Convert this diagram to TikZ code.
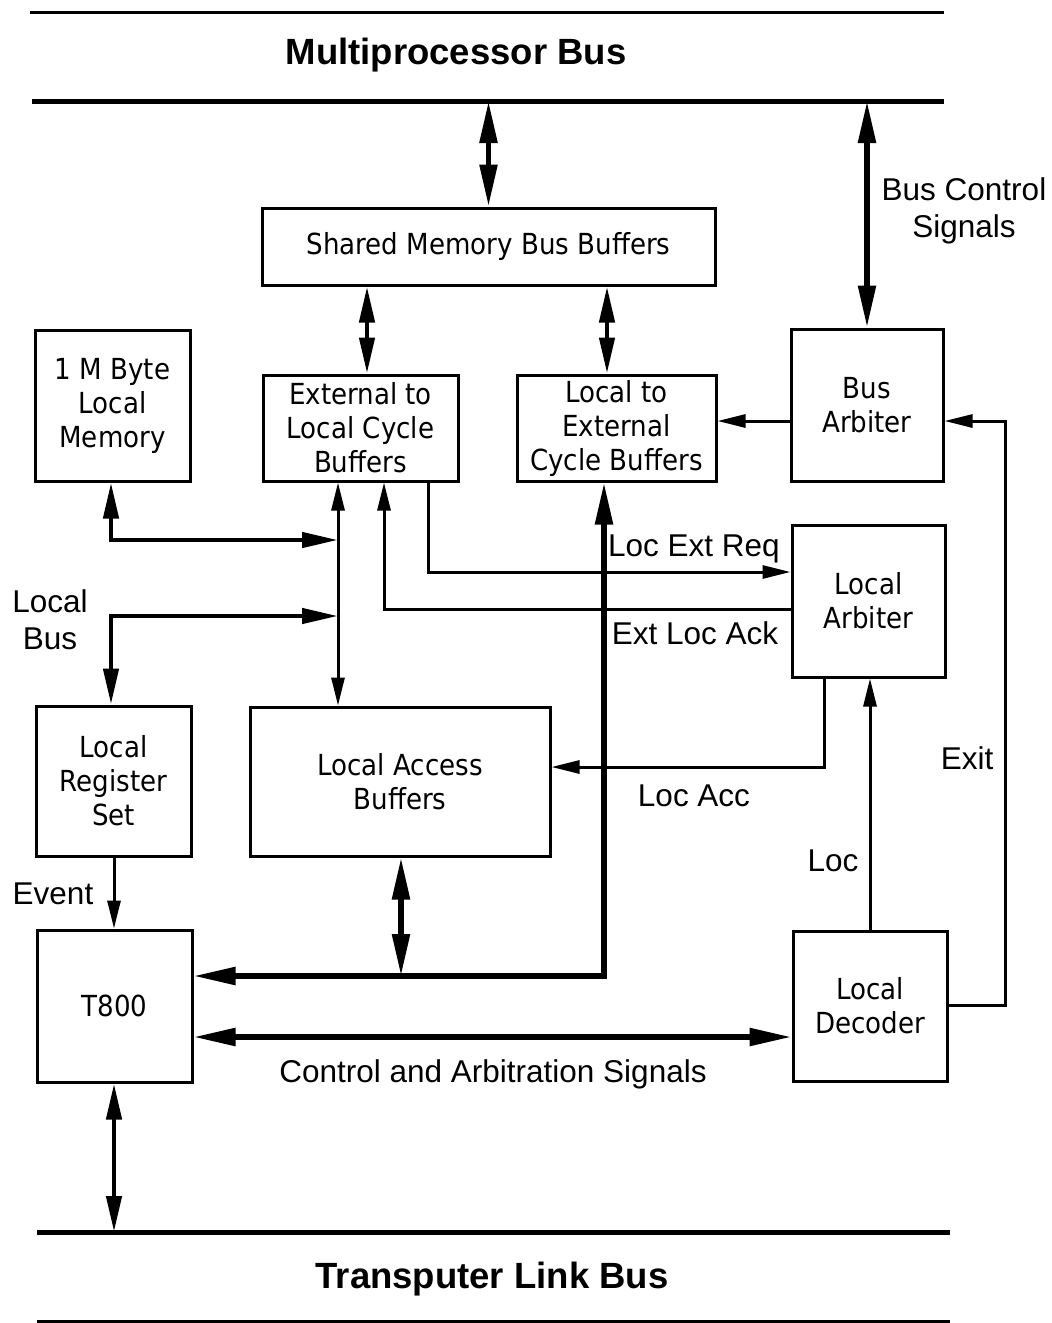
\documentclass[tikz,border=0pt]{standalone}
\usepackage{fontspec}
\setmainfont{Liberation Sans}
\newfontfamily\boxfont[FakeStretch=0.9]{DejaVu Sans}
\usetikzlibrary{arrows.meta}
\begin{document}
\begin{tikzpicture}[x=1pt,y=-1pt,
  blk/.style={draw, line width=3pt, inner sep=0pt, align=center,
    font=\boxfont\fontsize{29}{34}\selectfont},
  lbl/.style={inner sep=0pt, align=center, font=\fontsize{31.5}{37}\selectfont},
  ttl/.style={inner sep=0pt, font=\bfseries\fontsize{36.5}{40}\selectfont},
  busline/.style={line width=5pt},
  rule/.style={line width=3pt},
  thk/.style={line width=5.5pt, >={Triangle[length=42pt,width=17pt]}},
  med/.style={line width=4.5pt, >={Triangle[length=36pt,width=15pt]}},
  thn/.style={line width=3pt, >={Triangle[length=28pt,width=13pt]}}
]
\useasboundingbox (0,0) rectangle (1052,1323);

% bus lines
\draw[rule] (30,12) coordinate (topL) -- (944,12) coordinate (topR);
\draw[busline] (32,101) coordinate (mp) -- (944,101) coordinate (mpR);
\draw[busline] (37,1232) coordinate (tlb) -- (950,1232) coordinate (tlbR);
\draw[rule] (37,1321) coordinate (botL) -- (950,1321) coordinate (botR);
\node[ttl] (mpt) at (456,55) {Multiprocessor Bus};
\node[ttl] (tlt) at (492,1279) {Transputer Link Bus};

% blocks
\node[blk, minimum width=453pt, minimum height=77pt] (smbb) at (488.5,246.5) {Shared Memory Bus Buffers};
\node[blk, minimum width=155pt, minimum height=151pt] (mem) at (112.5,405.5) {1 M Byte\\Local\\Memory};
\node[blk, minimum width=195pt, minimum height=106pt] (e2l) at (360.5,428) {External to\\Local Cycle\\Buffers};
\node[blk, minimum width=199pt, minimum height=106pt] (l2e) at (616.5,428) {Local to\\External\\Cycle Buffers};
\node[blk, minimum width=152pt, minimum height=152pt] (barb) at (867,405) {Bus\\Arbiter};
\node[blk, minimum width=153pt, minimum height=152pt] (larb) at (868.5,601) {Local\\Arbiter};
\node[blk, minimum width=155pt, minimum height=150pt] (reg) at (113.5,781) {Local\\Register\\Set};
\node[blk, minimum width=300pt, minimum height=149pt] (lab) at (400,781.5) {Local Access\\Buffers};
\node[blk, minimum width=155pt, minimum height=152pt] (t800) at (114.5,1006) {T800};
\node[blk, minimum width=154pt, minimum height=150pt] (dec) at (870,1006) {Local\\Decoder};

% column / row helpers
\coordinate (cA) at (367,0);
\coordinate (cB) at (607,0);
\coordinate (cMem) at (111,0);
\coordinate (cLB) at (338,0);
\coordinate (cAck) at (384,0);
\coordinate (cReq) at (428,0);
\coordinate (cLE) at (604,0);
\coordinate (cLAB) at (401,0);
\coordinate (cLA) at (824,0);
\coordinate (cLoc) at (870,0);
\coordinate (cExit) at (1005,0);
\coordinate (cT) at (114,0);
\coordinate (rMem) at (0,540);
\coordinate (rLB) at (0,616);
\coordinate (rAck) at (0,609);
\coordinate (rReq) at (0,572);
\coordinate (rAcc) at (0,767);
\coordinate (rData) at (0,976);
\coordinate (rCtl) at (0,1037);
\coordinate (rBA) at (0,421);
\coordinate (rDec) at (0,1005);

% connectors
\draw[thk,<->] (smbb.north) -- (smbb.north |- mp);
\draw[thk,<->] (barb.north) -- (barb.north |- mp);
\draw[med,<->] (smbb.south -| cA) -- (e2l.north -| cA);
\draw[med,<->] (smbb.south -| cB) -- (l2e.north -| cB);
\draw[thn,->] (barb.west |- rBA) -- (l2e.east |- rBA);
\draw[thn,->] (dec.east |- rDec) -| (cExit |- rBA) -- (barb.east |- rBA);
\draw[med,<->] (mem.south -| cMem) |- (cLB |- rMem);
\draw[thn,<->] (e2l.south -| cLB) -- (lab.north -| cLB);
\draw[med,<->] (reg.north -| cMem) |- (cLB |- rLB);
\draw[thn,->] (larb.west |- rAck) -| (e2l.south -| cAck);
\draw[thn,->] (e2l.south -| cReq) |- (larb.west |- rReq);
\draw[thk,<->] (t800.east |- rData) -| (l2e.south -| cLE);
\draw[thk,<->] (lab.south -| cLAB) -- (cLAB |- rData);
\draw[thn,->] (larb.south -| cLA) |- (lab.east |- rAcc);
\draw[thn,->] (dec.north -| cLoc) -- (larb.south -| cLoc);
\draw[thk,<->] (t800.east |- rCtl) -- (dec.west |- rCtl);
\draw[thn,->] (reg.south -| cT) -- (t800.north -| cT);
\draw[med,<->] (t800.south -| cT) -- (cT |- tlb);

% labels
\node[lbl] (bcs) at (964,211) {Bus Control\\Signals};
\node[lbl] (lbus) at (50,620) {Local\\Bus};
\node[lbl] (ler) at (694,549) {Loc Ext Req};
\node[lbl] (ela) at (695,633) {Ext Loc Ack};
\node[lbl] (lacc) at (694,796) {Loc Acc};
\node[lbl] (loc) at (833,861) {Loc};
\node[lbl] (exit) at (967,758) {Exit};
\node[lbl] (evt) at (53,894) {Event};
\node[lbl] (cas) at (493,1074) {Control and Arbitration Signals};
\end{tikzpicture}
\end{document}
